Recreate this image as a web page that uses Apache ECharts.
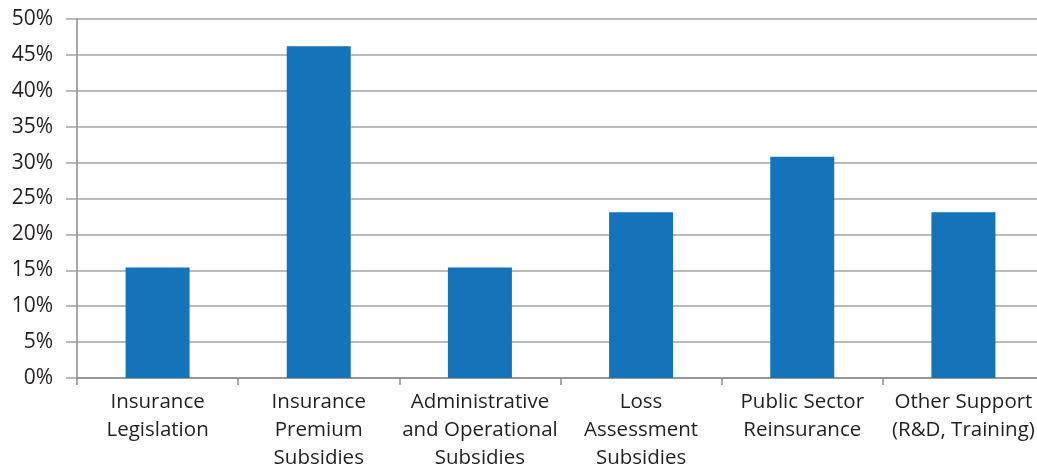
<!DOCTYPE html>
<html>
<head>
<meta charset="utf-8">
<script src="https://cdn.jsdelivr.net/npm/echarts@6/dist/echarts.min.js"></script>
<style>
  html, body { margin: 0; padding: 0; background: #fff; }
  #chart { width: 1037px; height: 467px; }
</style>
</head>
<body>
<div id="chart"></div>
<script>
// Support instruments, share of respondents (%)
const categories = [
  'Insurance\nLegislation',
  'Insurance\nPremium\nSubsidies',
  'Administrative\nand Operational\nSubsidies',
  'Loss\nAssessment\nSubsidies',
  'Public Sector\nReinsurance',
  'Other Support\n(R&D, Training)'
];
const shares = [15.4, 46.2, 15.4, 23.1, 30.8, 23.1];
const yTicks = { min: 0, max: 50, step: 5 };

const chart = echarts.init(document.getElementById('chart'), null, { renderer: 'canvas' });
const font = '"Open Sans", "Noto Sans", sans-serif';

chart.setOption({
  animation: false,
  backgroundColor: '#ffffff',
  grid: {
    left: 77, top: 19, width: 967, height: 359,
    containLabel: false,
    outerBoundsMode: 'none'
  },
  xAxis: {
    type: 'category',
    data: categories,
    axisLine: { show: true, lineStyle: { color: '#8c8c8c', width: 1.5 } },
    axisTick: { show: true, length: 7, alignWithLabel: false, lineStyle: { color: '#8c8c8c', width: 1.5 } },
    axisLabel: {
      interval: 0,
      color: '#231f20',
      fontFamily: font,
      fontSize: 20.5,
      lineHeight: 28,
      margin: 10
    },
    splitLine: { show: false }
  },
  yAxis: {
    type: 'value',
    min: yTicks.min,
    max: yTicks.max,
    interval: yTicks.step,
    axisLine: { show: true, lineStyle: { color: '#8c8c8c', width: 1.5 } },
    axisTick: { show: true, length: 11, lineStyle: { color: '#a3a3a3', width: 1.5 } },
    axisLabel: {
      formatter: '{value}%',
      color: '#231f20',
      fontFamily: font,
      fontSize: 21,
      margin: 24
    },
    splitLine: { show: true, lineStyle: { color: '#a3a3a3', width: 1.5 } }
  },
  series: [{
    type: 'bar',
    data: shares,
    barWidth: 64,
    itemStyle: { color: '#1573ba' }
  }]
});
</script>
</body>
</html>
